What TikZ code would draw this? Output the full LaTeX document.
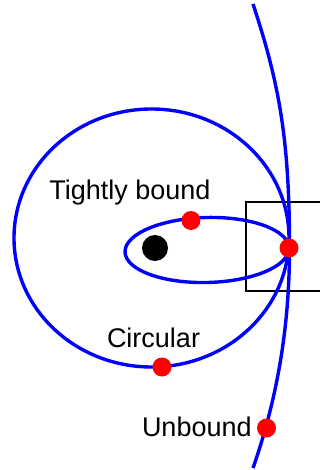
\documentclass[tikz,border=0pt]{standalone}
\usepackage{fontspec}
\setmainfont{Liberation Sans}
\begin{document}
\begin{tikzpicture}[x=1pt,y=-1pt,
  orbit/.style={draw={rgb,255:red,0;green,0;blue,255}, line width=3.4pt},
  reddot/.style={circle, fill={rgb,255:red,255;green,0;blue,0}, inner sep=0pt, minimum size=19pt},
  blackdot/.style={circle, fill=black, inner sep=0pt, minimum size=26pt},
  lbl/.style={anchor=base west, inner sep=0pt, outer sep=0pt, font=\fontsize{27}{31}\selectfont},
  frame/.style={draw=black, line width=1.4pt}]
\useasboundingbox (0,0) rectangle (320,470);
% zoom frame
\coordinate (ftl) at (320,202);
\coordinate (fbl) at (246,291);
\coordinate (fbr) at (320,291);
\draw[frame] (ftl) -| (fbl) -- (fbr);
% orbit centres and ends
\coordinate (bigc) at (151.5,238);
\coordinate (tightc) at (207,250);
\coordinate (utop) at (253,4);
\coordinate (ubot) at (253,468);
\coordinate (pp) at (289.5,248);
% circular orbit
\draw[orbit] (bigc) ellipse [x radius=137.5pt, y radius=129pt];
% tightly bound orbit
\draw[orbit, rotate around={1.4:(tightc)}] (tightc) ellipse [x radius=82pt, y radius=32.5pt];
% unbound orbit
\draw[orbit] (utop) .. controls (279.4,84) and (289.5,140) .. (pp)
  .. controls (289.5,320) and (279.25,393) .. (ubot);
% bodies
\node[blackdot] (star) at (155,248) {};
\node[reddot] (p) at (289,248) {};
\node[reddot] (tb) at (191,220.5) {};
\node[reddot] (circ) at (162,367) {};
\node[reddot] (unb) at (266.5,428) {};
% labels
\node[lbl] (ltb) at (49.4,200) {Tightly bound};
\node[lbl] (lcirc) at (107,347) {Circular};
\node[lbl] (lunb) at (142,436.5) {Unbound};
\end{tikzpicture}
\end{document}
